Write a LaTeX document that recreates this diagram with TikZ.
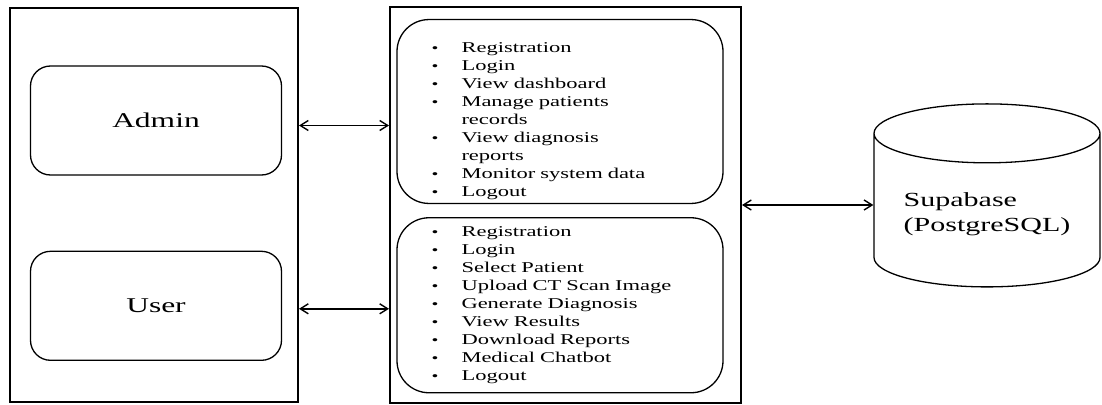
\documentclass[tikz,border=0pt]{standalone}
\usepackage{fontspec}
\setmainfont{Liberation Serif}[FakeStretch=1.5]
\usetikzlibrary{arrows.meta}
\usetikzlibrary{positioning}
\usetikzlibrary{shapes.geometric}

\newcommand{\bul}{\makebox[30pt][l]{{\fontsize{13}{13}\selectfont\textbullet}}}
\newcommand{\wrap}{\hspace*{30pt}}

\begin{document}
\begin{tikzpicture}[x=1pt, y=-1pt,
    panel/.style={rectangle, draw=black, line width=2pt},
    role/.style={rectangle, rounded corners=20pt, draw=black, line width=1.3pt, minimum width=251pt, minimum height=109pt, font=\fontsize{21}{25}\selectfont},
    tasks/.style={rectangle, rounded corners=32pt, draw=black, line width=1.3pt, minimum width=326pt, text width=257pt, inner xsep=34.5pt, align=left, font=\fontsize{15}{18}\selectfont},
    link/.style={{Straight Barb[length=8pt,width=10pt]}-{Straight Barb[length=8pt,width=10pt]}, line width=1.4pt}]
    \useasboundingbox (0, 0) rectangle (1102, 404);

    % actors
    \node [panel, minimum width=288pt, minimum height=394pt] (actors) at (154, 205) {};
    \node [role] (admin) at (156, 120.5) {Admin};
    \node [role, below=75pt of admin] (user) {User};

    % functions of each role
    \node [panel, minimum width=351pt, minimum height=395pt, right=90pt of actors] (modules) {};
    \node [tasks, minimum height=181pt] (adminops) at (560, 111.5) {%
        \rule{0pt}{30pt}\bul Registration\\
        \bul Login\\
        \bul View dashboard\\
        \bul Manage patients\\
        \wrap records\\
        \bul View diagnosis\\
        \wrap reports\\
        \bul Monitor system data\\
        \bul Logout};
    \node [tasks, minimum height=175pt, below=13pt of adminops] (userops) {%
        \bul Registration\\
        \bul Login\\
        \bul Select Patient\\
        \bul Upload CT Scan Image\\
        \bul Generate Diagnosis\\
        \bul View Results\\
        \bul Download Reports\\
        \bul Medical Chatbot\\
        \bul Logout};

    % database
    \node [cylinder, shape border rotate=90, aspect=0.34, draw=black, line width=1.3pt, minimum width=226pt, minimum height=183pt, align=left, font=\fontsize{20}{25}\selectfont] (supabase) at (987, 214) {Supabase\\(PostgreSQL)};

    \draw [link] ([yshift=-5pt]admin -| actors.east) -- ([yshift=-5pt]admin -| modules.west);
    \draw [link] ([yshift=-3pt]user -| actors.east) -- ([yshift=-3pt]user -| modules.west);
    \draw [link] (modules.east) -- (modules.east -| supabase.west);
\end{tikzpicture}
\end{document}
